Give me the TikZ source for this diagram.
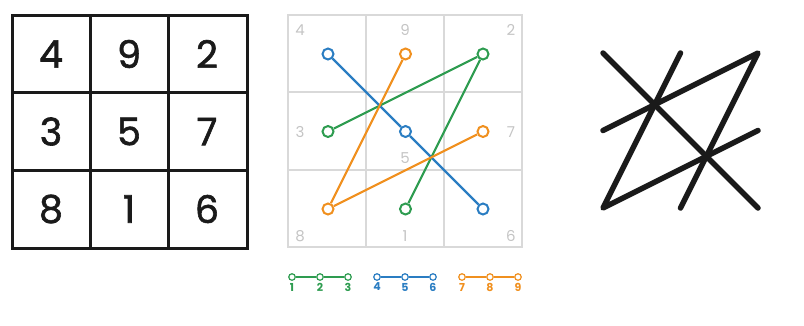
\documentclass[tikz,border=0pt]{standalone}
\usepackage{fontspec}
\setmainfont{Poppins}
\newfontfamily\digitfont{Poppins}[FakeBold=1.6]
\usetikzlibrary{positioning}

\definecolor{sqgreen}{HTML}{2E9C50}
\definecolor{sqblue}{HTML}{2A7DC2}
\definecolor{sqorange}{HTML}{F0901F}
\definecolor{gridgray}{HTML}{D9D9D9}
\definecolor{numgray}{HTML}{C4C4C4}
\definecolor{inkblack}{HTML}{1A1A1A}

\begin{document}
\begin{tikzpicture}[x=1pt,y=-1pt,
  bigdigit/.style={font=\digitfont\fontsize{38}{38}\selectfont, text=inkblack},
  smalldigit/.style={font=\fontsize{15}{15}\selectfont, text=numgray},
  ring/.style={circle, draw=#1, fill=white, line width=2pt, minimum size=11pt, inner sep=0pt},
  dot/.style={circle, draw=#1, fill=white, line width=1.2pt, minimum size=6.5pt, inner sep=0pt},
  keylabel/.style={font=\bfseries\fontsize{11}{11}\selectfont, inner sep=0pt},
  heavy/.style={line width=5.5pt, line cap=round, line join=round, inkblack}]
\useasboundingbox (0,0) rectangle (804,325);

% left square with the numbers
\begin{scope}
\draw[line width=3pt, inkblack] (12,15) rectangle (247,248);
\foreach \x in {90,168} {
  \draw[line width=3pt, inkblack] (\x,15) -- (\x,248);
}
\foreach \y in {92,170} {
  \draw[line width=3pt, inkblack] (12,\y) -- (247,\y);
}
\foreach \n/\i/\j in {4/0/0, 9/1/0, 2/2/0, 3/0/1, 5/1/1, 7/2/1, 8/0/2, 1/1/2, 6/2/2} {
  \node[bigdigit] (L\n) at ({51+78*\i},{54+77.5*\j}) {\n};
}
\end{scope}

% middle square with the coloured paths
\begin{scope}
\draw[line width=2.2pt, gridgray] (288,15) rectangle (522,247);
\foreach \x in {366,444} {
  \draw[line width=2.2pt, gridgray] (\x,15) -- (\x,247);
}
\foreach \y in {92,170} {
  \draw[line width=2.2pt, gridgray] (288,\y) -- (522,\y);
}
\foreach \n/\x/\y in {4/300/30, 9/405/30, 2/511/30, 3/300/132, 5/405/158, 7/511/132, 8/300/236, 1/405/236, 6/511/236} {
  \node[smalldigit] (G\n) at (\x,\y) {\n};
}
\foreach \n/\c/\i/\j in {4/sqblue/0/0, 9/sqorange/1/0, 2/sqgreen/2/0, 3/sqgreen/0/1, 5/sqblue/1/1, 7/sqorange/2/1, 8/sqorange/0/2, 1/sqgreen/1/2, 6/sqblue/2/2} {
  \node[ring=\c] (M\n) at ({328+77.5*\i},{54+77.5*\j}) {};
}
\draw[line width=2.2pt, sqgreen] (M1) -- (M2) -- (M3);
\draw[line width=2.2pt, sqblue] (M4) -- (M5) -- (M6);
\draw[line width=2.2pt, sqorange] (M7) -- (M8) -- (M9);
\end{scope}

% key below the middle square
\foreach \n/\c/\x in {1/sqgreen/292, 2/sqgreen/320, 3/sqgreen/348, 4/sqblue/377, 5/sqblue/405, 6/sqblue/433, 7/sqorange/462, 8/sqorange/490, 9/sqorange/518} {
  \node[dot=\c] (K\n) at (\x,277) {};
  \node[keylabel, text=\c, below=2pt of K\n] (KL\n) {\n};
}
\draw[line width=1.4pt, sqgreen] (K1) -- (K2) -- (K3);
\draw[line width=1.4pt, sqblue] (K4) -- (K5) -- (K6);
\draw[line width=1.4pt, sqorange] (K7) -- (K8) -- (K9);

% right figure
\foreach \n/\i/\j in {4/0/0, 9/1/0, 2/2/0, 3/0/1, 5/1/1, 7/2/1, 8/0/2, 1/1/2, 6/2/2} {
  \coordinate (R\n) at ({603+77.5*\i},{53+77.5*\j});
}
\draw[heavy] (R1) -- (R2) -- (R3);
\draw[heavy] (R4) -- (R5) -- (R6);
\draw[heavy] (R7) -- (R8) -- (R9);

\end{tikzpicture}
\end{document}
